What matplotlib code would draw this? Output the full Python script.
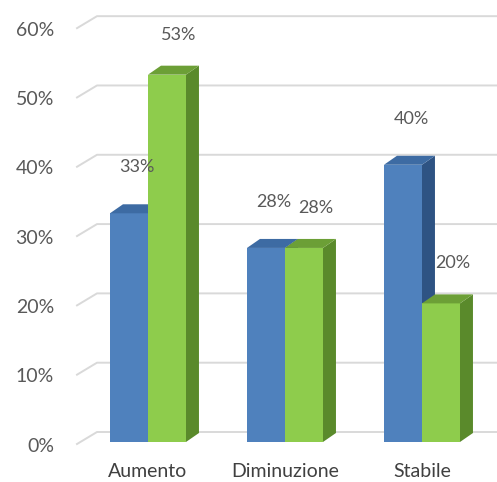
import numpy as np
import matplotlib
matplotlib.use("Agg")
import matplotlib.pyplot as plt
from matplotlib.patches import Polygon

plt.rcParams['font.family'] = ['Lato', 'DejaVu Sans']

# data
categories = ['Aumento', 'Diminuzione', 'Stabile']
serie_blu = [33, 28, 40]
serie_verde = [53, 28, 20]
yticks = [0, 10, 20, 30, 40, 50, 60]

# colours: front, top, side
blu = ('#4F81BD', '#3D6BA3', '#2E5383')
verde = ('#8ECC4C', '#6C9F36', '#5A8A2B')

fig = plt.figure(figsize=(4.97, 4.82), dpi=100)
ax = fig.add_axes([77 / 497, 40 / 482, 420 / 497, 429.7 / 482])
ax.set_xlim(-0.518, -0.518 + 420 / 137)
ax.set_ylim(0, 62)
ax.axis('off')

# pixel -> data units
px = 1 / 137
py = 10 / 69.3

x = np.arange(len(categories))
w = 38 * px

# back wall grid with little perspective stub on the left
xl, xr = ax.get_xlim()
for v in yticks:
    ax.plot([xl, xl + 20 * px, xr], [v - 2 * py, v + 10 * py, v + 10 * py],
            color='#D9D9D9', lw=1.4, clip_on=False, zorder=1)
    ax.text(xl - 23 * px, v - 4 * py, f'{v}%', ha='right', va='center',
            fontsize=14, color='#595959')


def bar3d(x0, h, cols):
    dx, dy = 13 * px, 9 * py
    front = Polygon([[x0, 0], [x0 + w, 0], [x0 + w, h], [x0, h]], closed=True,
                    facecolor=cols[0], edgecolor='none', zorder=3)
    top = Polygon([[x0, h], [x0 + w, h], [x0 + w + dx, h + dy], [x0 + dx, h + dy]],
                  closed=True, facecolor=cols[1], edgecolor='none', zorder=3)
    side = Polygon([[x0 + w, 0], [x0 + w + dx, dy], [x0 + w + dx, h + dy], [x0 + w, h]],
                   closed=True, facecolor=cols[2], edgecolor='none', zorder=3)
    for p in (side, front, top):
        ax.add_patch(p)


for i in range(len(categories)):
    bar3d(x[i] - w, serie_blu[i], blu)
    bar3d(x[i], serie_verde[i], verde)

# value labels
for i in range(len(categories)):
    ax.text(x[i] - w / 2 + 8 * px, serie_blu[i] + 46 * py, f'{serie_blu[i]}%',
            ha='center', va='center', fontsize=13, color='#595959', zorder=4)
    ax.text(x[i] + w / 2 + 12 * px, serie_verde[i] + 40 * py, f'{serie_verde[i]}%',
            ha='center', va='center', fontsize=13, color='#595959', zorder=4)

# category labels
for i, c in enumerate(categories):
    ax.text(x[i], -29 * py, c, ha='center', va='center', fontsize=14,
            color='#404040', clip_on=False)

fig.savefig('out.png', dpi=100)
